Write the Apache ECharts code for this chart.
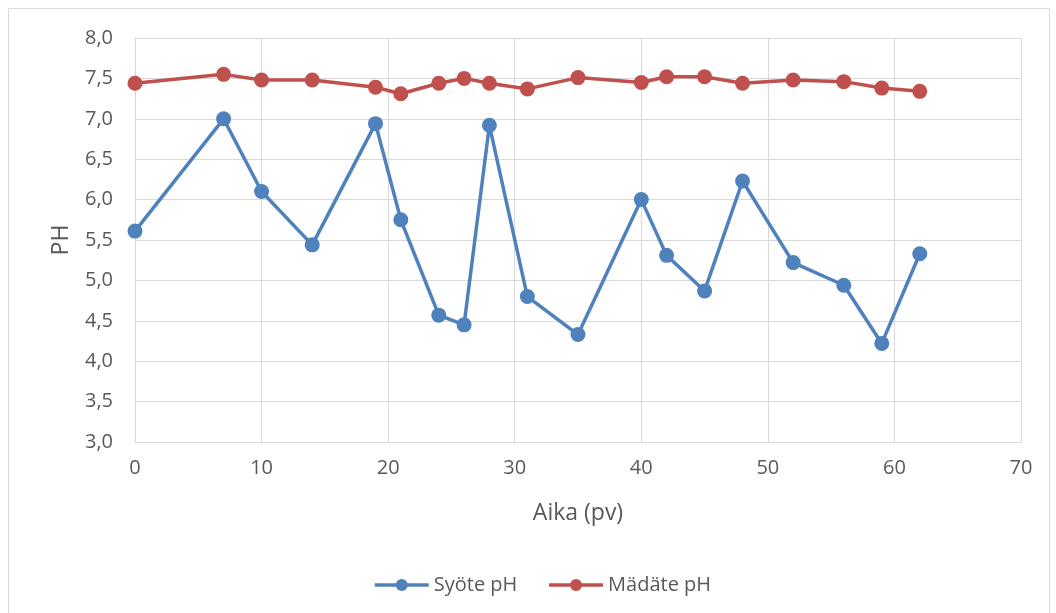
<!DOCTYPE html>
<html>
<head>
<meta charset="utf-8">
<script src="https://cdn.jsdelivr.net/npm/echarts@6/dist/echarts.min.js"></script>
<style>
  html, body { margin: 0; padding: 0; background: #fff; }
  #main { width: 1056px; height: 613px; }
</style>
</head>
<body>
<div id="main"></div>
<script>
const days = [0, 7, 10, 14, 19, 21, 24, 26, 28, 31, 35, 40, 42, 45, 48, 52, 56, 59, 62];
const syoteValues = [5.61, 7.0, 6.1, 5.44, 6.94, 5.75, 4.57, 4.45, 6.92, 4.8, 4.33, 6.0, 5.31, 4.87, 6.23, 5.22, 4.94, 4.22, 5.33];
const madateValues = [7.44, 7.55, 7.48, 7.48, 7.39, 7.31, 7.44, 7.5, 7.44, 7.37, 7.51, 7.45, 7.52, 7.52, 7.44, 7.48, 7.46, 7.38, 7.34];
const seriesNames = ['Syöte pH', 'Mädäte pH'];

const font = "'Open Sans', 'Noto Sans', sans-serif";
const textColor = '#595959';
const gridColor = '#d9d9d9';

function pairs(xs, ys) {
  return xs.map((x, i) => [x, ys[i]]);
}

const chart = echarts.init(document.getElementById('main'), null, { renderer: 'canvas' });

chart.setOption({
  backgroundColor: '#fff',
  animation: false,
  graphic: [{
    type: 'rect',
    shape: { x: 8.5, y: 8.5, width: 1041, height: 620 },
    style: { fill: 'none', stroke: '#d9d9d9', lineWidth: 1 },
    silent: true
  }],
  grid: { left: 135, right: 35, top: 38, bottom: 171 },
  legend: {
    data: seriesNames,
    bottom: 13,
    left: 368,
    itemWidth: 54,
    itemHeight: 15,
    itemGap: 30,
    lineStyle: { width: 3.5 },
    textStyle: { fontFamily: font, fontSize: 20, color: textColor }
  },
  xAxis: {
    type: 'value',
    min: 0,
    max: 70,
    interval: 10,
    name: 'Aika (pv)',
    nameLocation: 'middle',
    nameGap: 60,
    nameTextStyle: { fontFamily: font, fontSize: 23, color: textColor },
    axisLine: { lineStyle: { color: gridColor, width: 1 } },
    axisTick: { show: false },
    axisLabel: { fontFamily: font, fontSize: 20, color: textColor, margin: 16 },
    splitLine: { lineStyle: { color: gridColor, width: 1 } }
  },
  yAxis: {
    type: 'value',
    min: 3,
    max: 8,
    interval: 0.5,
    name: 'PH',
    nameLocation: 'middle',
    nameGap: 62,
    nameRotate: 90,
    nameTextStyle: { fontFamily: font, fontSize: 23, color: textColor },
    axisLine: { show: true, lineStyle: { color: gridColor, width: 1 } },
    axisTick: { show: false },
    axisLabel: {
      fontFamily: font, fontSize: 20, color: textColor, margin: 22,
      formatter: v => v.toFixed(1).replace('.', ',')
    },
    splitLine: { lineStyle: { color: gridColor, width: 1 } }
  },
  series: [
    {
      name: seriesNames[0],
      type: 'line',
      data: pairs(days, syoteValues),
      symbol: 'circle',
      symbolSize: 15,
      lineStyle: { color: '#4f81bd', width: 3.5 },
      itemStyle: { color: '#4f81bd' }
    },
    {
      name: seriesNames[1],
      type: 'line',
      data: pairs(days, madateValues),
      symbol: 'circle',
      symbolSize: 15,
      lineStyle: { color: '#c0504d', width: 3.5 },
      itemStyle: { color: '#c0504d' }
    }
  ]
});
</script>
</body>
</html>
